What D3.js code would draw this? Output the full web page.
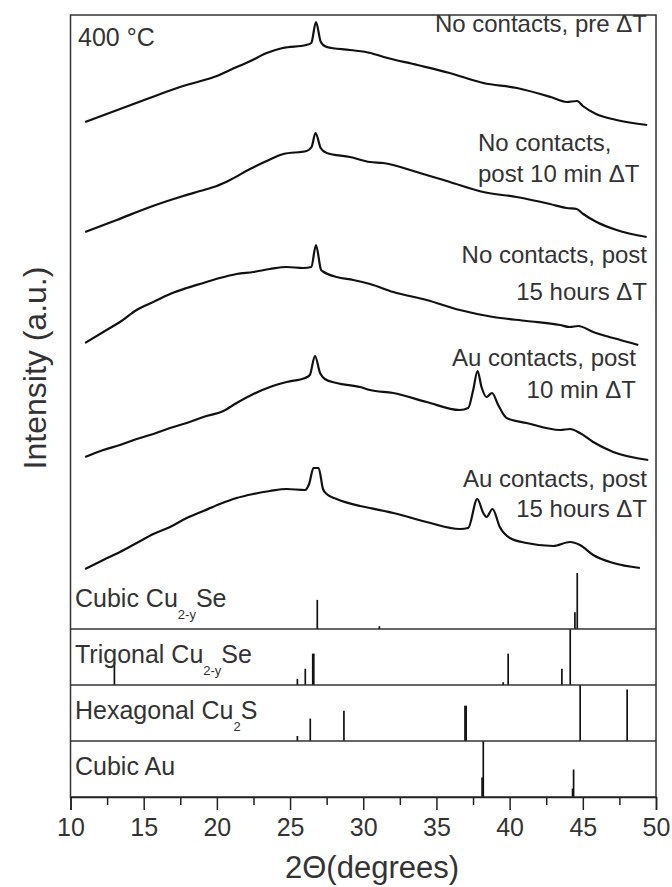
<!DOCTYPE html>
<html>
<head>
<meta charset="utf-8">
<script src="https://cdn.jsdelivr.net/npm/d3@7"></script>
<style>
body{margin:0;background:#fff;}
text{font-family:Arial,"Liberation Sans",sans-serif;fill:#333;}
</style>
</head>
<body>
<div id="chart"></div>
<script>
//------------------------------------------------------------------------ Data
var majorTicks = [10, 15, 20, 25, 30, 35, 40, 45, 50];
var minorTicks = [12.5, 17.5, 22.5, 27.5, 32.5, 37.5, 42.5, 47.5];

// XRD patterns, [2theta, intensity a.u.] (stacked)
var noContactsPre = [[11.0,507],[13.2,519],[15.4,531],[17.7,543],[18.9,548],[20.0,553],[20.9,559],[22.3,568],[23.4,576],[24.5,581],[26.1,584],[26.45,586],[26.77,607],[27.1,587],[27.5,582],[29.1,579],[30.5,576],[31.4,572],[33.7,564],[35.9,556],[38.2,546],[40.5,541],[42.8,532],[43.9,527],[44.6,528],[45.0,523],[45.9,515],[47.3,509],[49.4,504]];
var noContacts10min = [[11.0,397],[13.16,409],[15.43,422],[17.7,433],[18.85,438],[19.99,443],[20.9,449],[22.26,460],[23.4,468],[24.54,475],[26.13,478],[26.47,482],[26.74,496],[27.09,481],[27.5,476],[29.09,472],[30.46,467],[31.37,466],[33.65,457],[35.92,447],[38.2,437],[40.48,432],[42.75,425],[43.89,421],[44.58,420],[45.03,415],[45.94,407],[47.31,399],[49.36,392]];
var noContacts15h = [[11.0,286],[12.24,297],[13.38,307],[14.52,319],[15.66,327],[16.8,335],[17.94,341],[19.07,346],[20.2,351],[21.35,355],[22.49,357],[23.63,360],[24.77,362],[25.9,361],[26.45,362],[26.77,384],[27.12,359],[27.3,357],[28.18,352],[29.32,349],[30.46,345],[32.05,337],[34.33,329],[36.6,319],[38.88,312],[41.16,308],[43.44,304],[44.1,302],[44.69,303],[45.71,297],[47.08,291],[48.79,284]];
var auContacts10min = [[11.0,172],[12.24,179],[13.38,184],[14.52,190],[15.66,195],[16.8,201],[17.94,206],[19.07,212],[20.44,218],[21.35,226],[22.49,235],[23.63,242],[24.77,247],[26.02,251],[26.35,254],[26.7,273],[27.05,256],[27.38,250],[28.18,246],[29.78,242],[30.46,239],[32.05,236],[34.33,227],[36.6,219],[37.17,221],[37.51,239],[37.81,258],[38.08,242],[38.42,232],[38.8,236],[39.22,224],[39.79,211],[41.16,206],[43.44,199],[44.12,200],[44.8,196],[45.71,187],[47.08,177],[49.47,169]];
var auContacts15h = [[11.0,60],[12.24,69],[13.38,77],[14.52,86],[15.66,95],[16.8,102],[17.94,111],[19.07,118],[20.2,125],[21.35,131],[22.49,135],[23.63,138],[24.77,140],[26.02,139],[26.3,145],[26.6,161],[26.95,161],[27.25,140],[27.5,135],[28.18,130],[29.78,123],[30.46,121],[32.05,116],[34.33,107],[36.6,100],[37.17,101],[37.79,130],[38.2,116],[38.42,112],[38.83,120],[39.33,102],[40.02,91],[41.16,86],[42.98,83],[44.12,87],[44.8,84],[45.71,74],[47.08,66],[48.9,61]];
var patterns = [noContactsPre, noContacts10min, noContacts15h, auContacts10min, auContacts15h];

var patternLabels = [
  ["No contacts, pre \u0394T"],
  ["No contacts,", "post 10 min \u0394T"],
  ["No contacts, post", "15 hours \u0394T"],
  ["Au contacts, post", "10 min \u0394T"],
  ["Au contacts, post", "15 hours \u0394T"]
];

// reference patterns, [2theta, relative intensity %]
var phases = ["cubicCuSe", "trigonalCuSe", "hexagonalCuS", "cubicAu"];
var cubicCuSe = [[26.86,52],[31.1,5],[44.46,30],[44.62,100]];
var trigonalCuSe = [[13.0,41],[25.5,11],[26.04,29],[26.55,56],[26.62,56],[39.56,5],[39.9,56],[43.57,29],[44.14,100]];
var hexagonalCuS = [[25.5,9],[26.38,40],[28.68,54],[36.95,63],[37.03,63],[44.82,100],[48.03,92]];
var cubicAu = [[38.12,35],[38.2,100],[44.3,15],[44.37,49]];
var sticks = [cubicCuSe, trigonalCuSe, hexagonalCuS, cubicAu];
// label: [main, subscript, rest]
var phaseLabels = [["Cubic Cu", "2-y", "Se"], ["Trigonal Cu", "2-y", "Se"], ["Hexagonal Cu", "2", "S"], ["Cubic Au", "", ""]];

//------------------------------------------------------------------------ Layout
var W = 672, H = 887;
var margin = {top: 15, right: 16, bottom: 90, left: 70.5};
var plotBottom = H - margin.bottom;

var svg = d3.select("#chart").append("svg")
  .attr("width", W)
  .attr("height", H);

var x = d3.scaleLinear().domain([10, 50]).range([margin.left, W - margin.right]);
var y = d3.scaleLinear().domain([0, 614]).range([629, margin.top]);
var band = d3.scaleBand().domain(phases).range([573, plotBottom]).padding(0);

//------------------------------------------------------------------------ Patterns
var line = d3.line()
  .x(function(d){ return x(d[0]); })
  .y(function(d){ return y(d[1]); })
  .curve(d3.curveMonotoneX);

svg.selectAll("path.xrd")
  .data(patterns)
  .enter().append("path")
  .attr("class", "xrd")
  .attr("d", line)
  .attr("fill", "none")
  .attr("stroke", "#111")
  .attr("stroke-width", 2.2)
  .attr("stroke-linejoin", "round");

// pattern labels: [anchor, x, first baseline]
var labelPos = [["end", 647, 32], ["start", 478, 151], ["end", 647, 263], ["end", 636, 366], ["end", 647, 487]];
var lineGap = [0, 31, 37, 32, 30];
patternLabels.forEach(function(lines, i){
  var p = labelPos[i];
  var t = svg.append("text")
    .attr("x", p[1])
    .attr("y", p[2])
    .attr("font-size", "24px")
    .style("text-anchor", p[0]);
  lines.forEach(function(s, j){
    t.append("tspan").attr("x", p[1]).attr("dy", j == 0 ? 0 : lineGap[i]).text(s);
  });
});

svg.append("text")
  .attr("x", 78)
  .attr("y", 46)
  .attr("font-size", "25px")
  .text("400 \u00B0C");

//------------------------------------------------------------------------ Stick panels
phases.forEach(function(ph, i){
  var top = band(ph), bot = top + band.bandwidth();
  var ys = d3.scaleLinear().domain([0, 100]).range([bot, top]);

  svg.selectAll("line.stick" + i)
    .data(sticks[i])
    .enter().append("line")
    .attr("x1", function(d){ return x(d[0]); })
    .attr("x2", function(d){ return x(d[0]); })
    .attr("y1", bot)
    .attr("y2", function(d){ return ys(d[1]); })
    .attr("stroke", "#111")
    .attr("stroke-width", 1.7);

  if (i > 0) {
    svg.append("line")
      .attr("x1", margin.left).attr("x2", W - margin.right)
      .attr("y1", top).attr("y2", top)
      .attr("stroke", "#333").attr("stroke-width", 1.5);
  }

  var lab = phaseLabels[i];
  var t = svg.append("text")
    .attr("x", 75)
    .attr("y", top + 34)
    .attr("font-size", "25px")
    .text(lab[0]);
  if (lab[1]) {
    t.append("tspan").attr("dy", 12).attr("font-size", "13px").text(lab[1]);
    t.append("tspan").attr("dy", -12).text(lab[2]);
  }
});

//------------------------------------------------------------------------ Frame + axes
svg.append("rect")
  .attr("x", margin.left)
  .attr("y", margin.top)
  .attr("width", W - margin.right - margin.left)
  .attr("height", plotBottom - margin.top)
  .attr("fill", "none")
  .attr("stroke", "#333")
  .attr("stroke-width", 1.5);

var xAxis = svg.append("g")
  .attr("transform", "translate(0," + plotBottom + ")")
  .call(d3.axisBottom(x).tickValues(majorTicks).tickSize(13).tickPadding(8).tickFormat(d3.format("d")));
xAxis.select(".domain").attr("stroke", "#222").attr("stroke-width", 1.5);
xAxis.selectAll(".tick line").attr("stroke", "#222").attr("stroke-width", 1.5);
xAxis.selectAll("text").attr("font-size", "25px").attr("font-family", "Arial, 'Liberation Sans', sans-serif").attr("fill", "#333");

var xMinor = svg.append("g")
  .attr("transform", "translate(0," + plotBottom + ")")
  .call(d3.axisBottom(x).tickValues(minorTicks).tickSize(8).tickFormat(""));
xMinor.select(".domain").remove();
xMinor.selectAll(".tick line").attr("stroke", "#222").attr("stroke-width", 1.5);

svg.append("text")
  .attr("x", 372)
  .attr("y", 878)
  .attr("font-size", "31px")
  .style("text-anchor", "middle")
  .text("2\u0398(degrees)");

svg.append("text")
  .attr("transform", "rotate(-90)")
  .attr("x", -368)
  .attr("y", 46)
  .attr("font-size", "32px")
  .style("text-anchor", "middle")
  .text("Intensity (a.u.)");
</script>
</body>
</html>
